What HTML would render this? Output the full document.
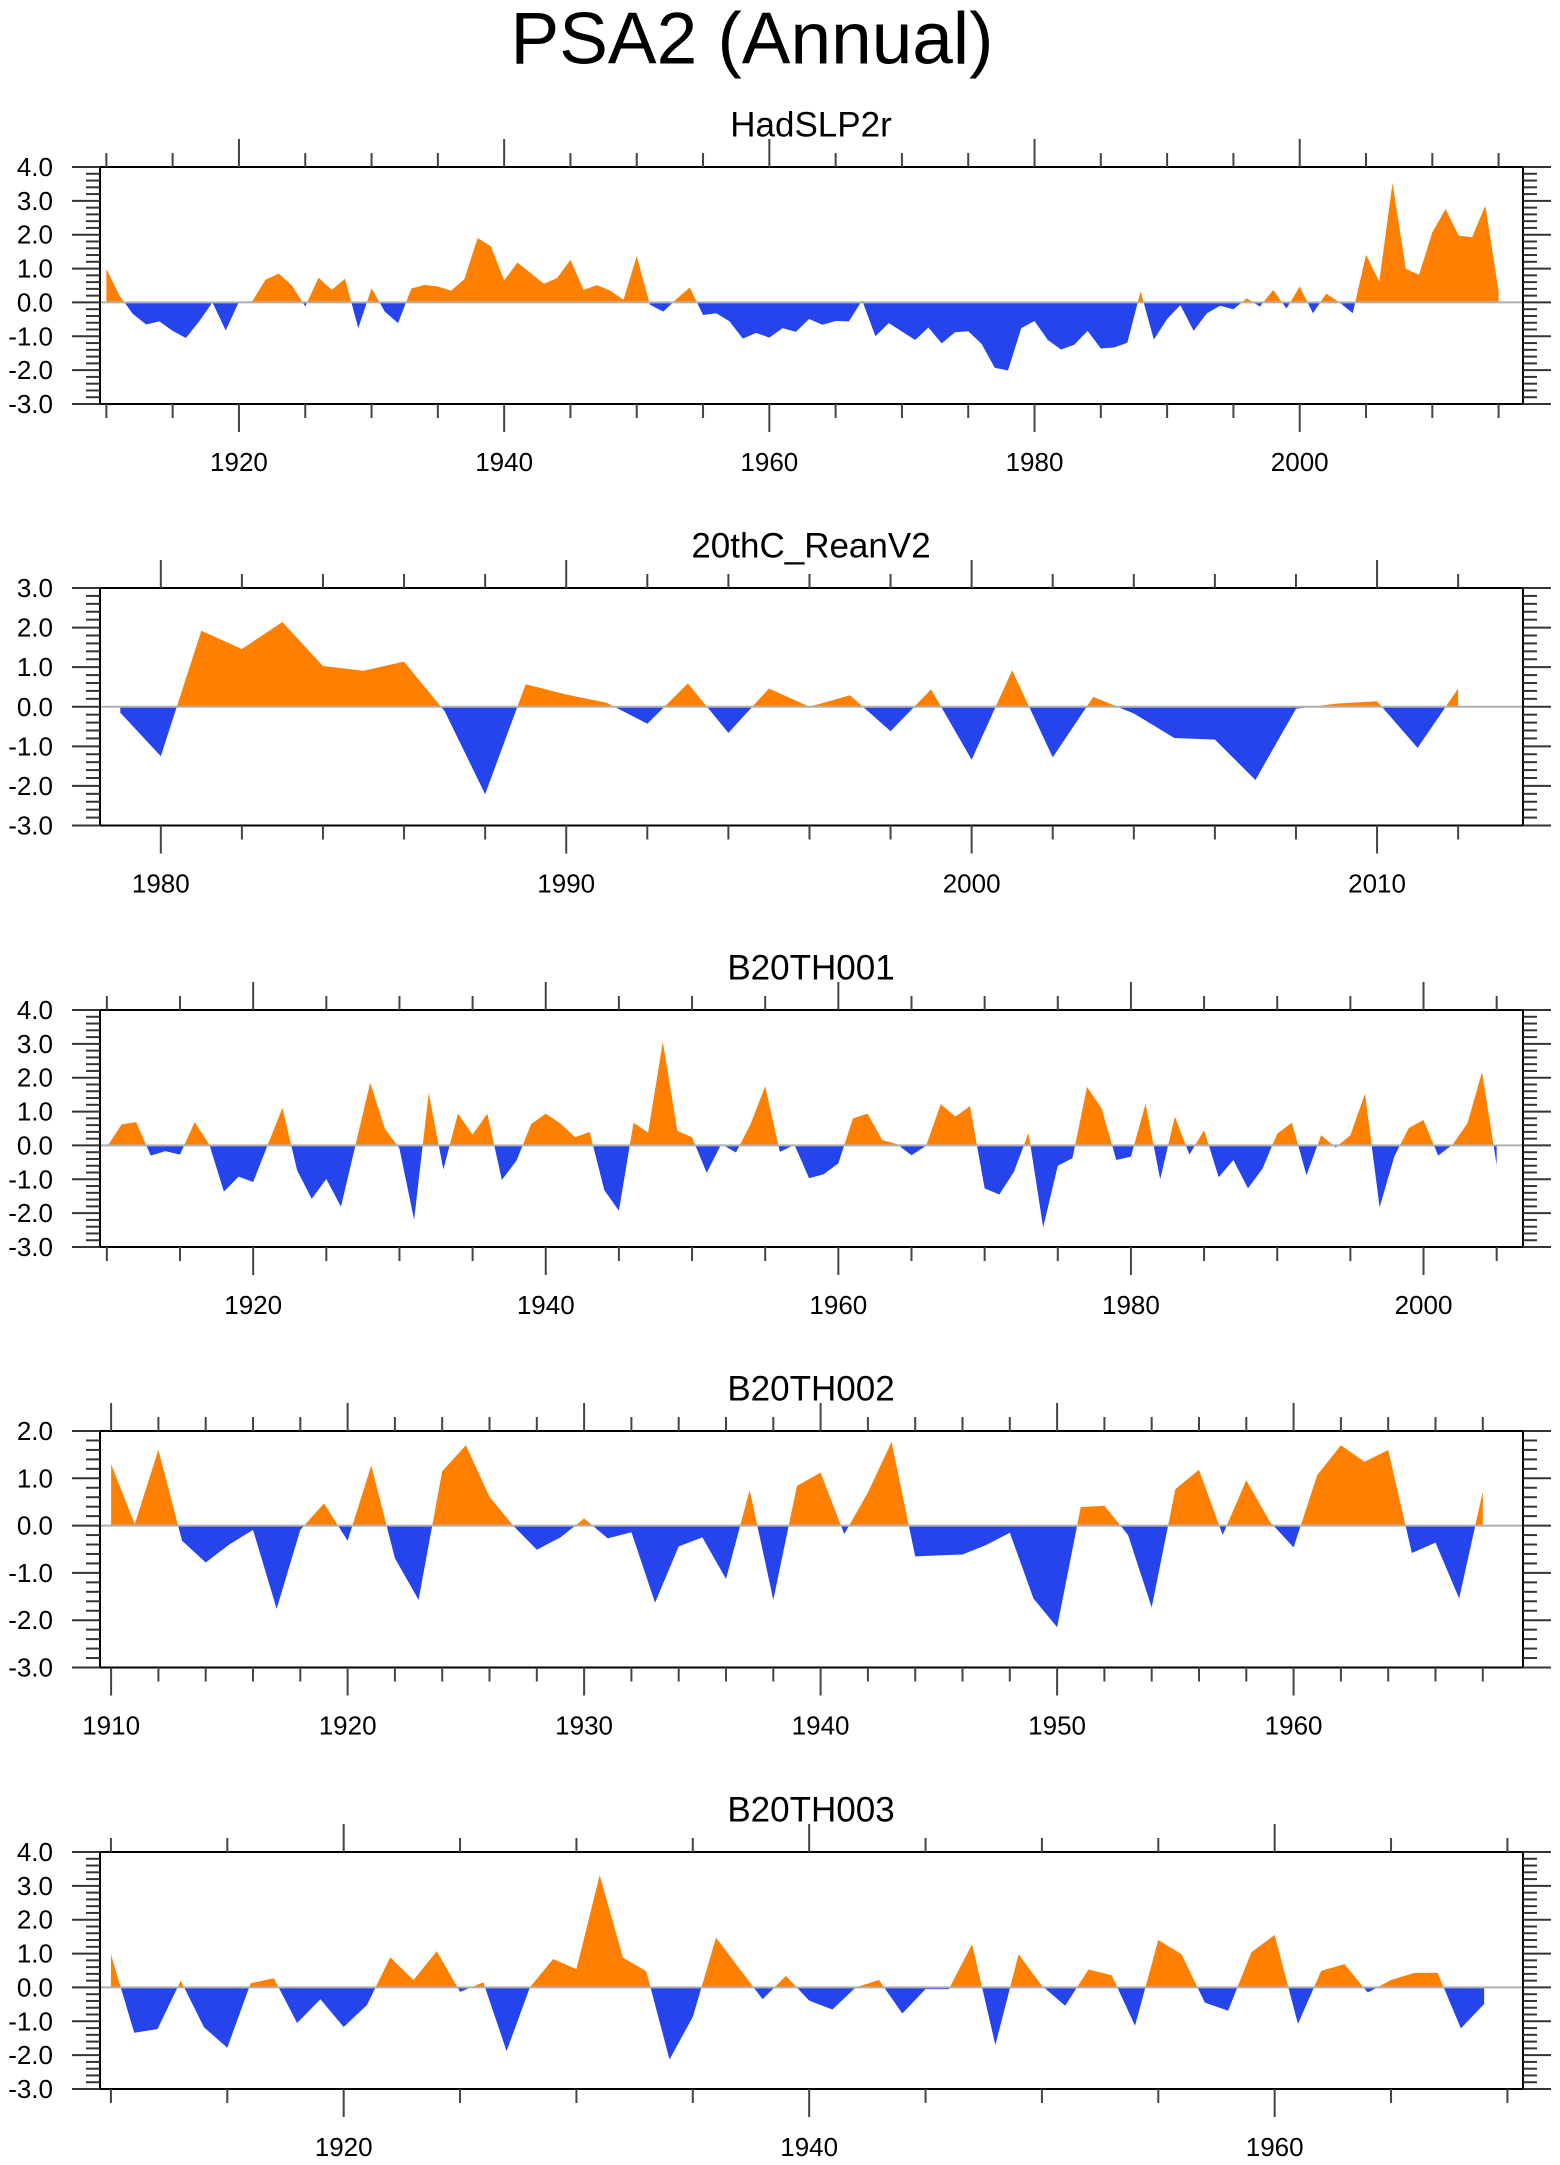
<!DOCTYPE html>
<html><head><meta charset="utf-8"><title>PSA2 (Annual)</title>
<style>
html,body{margin:0;padding:0;background:#fff;}
svg{display:block;font-family:"Liberation Sans",sans-serif;}
</style></head>
<body>
<svg id="chart" width="1560" height="2165" viewBox="0 0 1560 2165" xmlns="http://www.w3.org/2000/svg">
<text x="752" y="39" font-size="73" text-anchor="middle" dominant-baseline="central" fill="#000">PSA2 (Annual)</text>
</svg>
<script>
// ---- data ----
const titles = ["HadSLP2r", "20thC_ReanV2", "B20TH001", "B20TH002", "B20TH003"];
const startYears = [1910, 1979, 1910, 1910, 1910];
const hadslp2r = [0.99,0.2,-0.34,-0.65,-0.56,-0.84,-1.05,-0.56,0.0,-0.83,0.02,0.03,0.67,0.85,0.5,-0.12,0.73,0.37,0.7,-0.76,0.42,-0.27,-0.61,0.41,0.52,0.47,0.35,0.69,1.9,1.66,0.65,1.18,0.87,0.55,0.72,1.26,0.37,0.51,0.35,0.08,1.36,-0.07,-0.27,0.1,0.44,-0.37,-0.32,-0.56,-1.07,-0.9,-1.04,-0.76,-0.87,-0.49,-0.66,-0.55,-0.56,0.06,-1.0,-0.61,-0.86,-1.11,-0.74,-1.21,-0.88,-0.85,-1.22,-1.93,-2.01,-0.76,-0.55,-1.11,-1.39,-1.25,-0.84,-1.36,-1.33,-1.19,0.33,-1.1,-0.49,-0.08,-0.84,-0.32,-0.1,-0.2,0.12,-0.12,0.37,-0.18,0.47,-0.32,0.26,0.0,-0.32,1.41,0.62,3.53,0.99,0.82,2.07,2.76,1.97,1.93,2.86,0.33];
const reanV2 = [-0.15,-1.25,1.92,1.46,2.14,1.03,0.91,1.14,-0.11,-2.21,0.57,0.31,0.1,-0.43,0.59,-0.66,0.46,0.0,0.29,-0.62,0.44,-1.34,0.92,-1.28,0.25,-0.17,-0.79,-0.83,-1.85,-0.05,0.08,0.14,-1.04,0.46];
const b20th001 = [-0.05,0.62,0.69,-0.3,-0.17,-0.27,0.69,0.03,-1.37,-0.92,-1.08,0.02,1.11,-0.73,-1.58,-0.99,-1.81,0.02,1.85,0.5,-0.09,-2.2,1.55,-0.71,0.94,0.32,0.94,-1.02,-0.45,0.63,0.94,0.65,0.24,0.4,-1.32,-1.93,0.67,0.38,3.06,0.43,0.24,-0.81,0.04,-0.21,0.63,1.75,-0.19,0.02,-0.97,-0.85,-0.53,0.8,0.94,0.16,0.04,-0.29,-0.01,1.22,0.85,1.16,-1.27,-1.45,-0.78,0.37,-2.42,-0.6,-0.38,1.73,1.09,-0.43,-0.33,1.23,-1.0,0.85,-0.27,0.45,-0.94,-0.43,-1.27,-0.68,0.35,0.67,-0.88,0.3,-0.06,0.3,1.53,-1.83,-0.33,0.52,0.75,-0.3,0.03,0.65,2.17,-0.58];
const b20th002 = [1.3,0.03,1.6,-0.32,-0.78,-0.4,-0.09,-1.76,-0.09,0.47,-0.32,1.27,-0.69,-1.57,1.15,1.7,0.61,0.0,-0.51,-0.25,0.15,-0.27,-0.14,-1.63,-0.44,-0.25,-1.13,0.75,-1.57,0.84,1.12,-0.18,0.7,1.77,-0.65,-0.63,-0.61,-0.41,-0.15,-1.54,-2.15,0.39,0.42,-0.2,-1.73,0.77,1.18,-0.2,0.96,0.08,-0.46,1.07,1.7,1.35,1.6,-0.58,-0.36,-1.54,0.72];
const b20th003 = [0.98,-1.34,-1.23,0.2,-1.18,-1.78,0.12,0.27,-1.05,-0.35,-1.17,-0.52,0.89,0.22,1.07,-0.13,0.15,-1.88,0.0,0.84,0.54,3.32,0.88,0.48,-2.13,-0.87,1.47,0.56,-0.35,0.34,-0.39,-0.65,0.0,0.22,-0.77,-0.05,-0.05,1.28,-1.7,0.98,0.05,-0.54,0.53,0.36,-1.13,1.4,0.98,-0.45,-0.69,1.04,1.55,-1.08,0.49,0.69,-0.15,0.22,0.43,0.43,-1.21,-0.49];
const seriesList = [hadslp2r, reanV2, b20th001, b20th002, b20th003];
const yMaxes = [4, 3, 4, 2, 4];
const yMins = [-3, -3, -3, -3, -3];
const xMins = [1909.52, 1978.5, 1909.53, 1909.53, 1909.53];
const xMaxes = [2016.84, 2013.6, 2006.8, 1969.7, 1970.67];
const majorSteps = [20, 10, 20, 10, 20];
const minorSteps = [5, 2, 5, 2, 5];

// ---- layout ----
const NS = "http://www.w3.org/2000/svg";
const svg = document.getElementById("chart");
const boxLeft = 100, boxRight = 1523;
const boxTops = [167, 588, 1010, 1431, 1852];
const boxBottoms = [404, 825.5, 1247, 1667.5, 2089];
const ORANGE = "#ff8000", BLUE = "#2644ec";

function mk(tag, attrs, parent) {
  const e = document.createElementNS(NS, tag);
  for (const k in attrs) e.setAttribute(k, attrs[k]);
  (parent || svg).appendChild(e);
  return e;
}

for (let p = 0; p < 5; p++) {
  const top = boxTops[p], bot = boxBottoms[p];
  const xMin = xMins[p], xMax = xMaxes[p], yMin = yMins[p], yMax = yMaxes[p];
  const xs = v => boxLeft + (v - xMin) / (xMax - xMin) * (boxRight - boxLeft);
  const ys = v => bot - (v - yMin) / (yMax - yMin) * (bot - top);
  const g = mk("g", {});
  
  

  // clip paths
  const defs = mk("defs", {}, g);
  const cpU = mk("clipPath", {id: "up" + p}, defs);
  mk("rect", {x: boxLeft, y: top, width: boxRight - boxLeft, height: ys(0) - top}, cpU);
  const cpD = mk("clipPath", {id: "dn" + p}, defs);
  mk("rect", {x: boxLeft, y: ys(0), width: boxRight - boxLeft, height: bot - ys(0)}, cpD);

  const vals = seriesList[p];
  const y0 = ys(0);
  let d = "M" + xs(startYears[p]) + "," + y0;
  for (let i = 0; i < vals.length; i++) d += " L" + xs(startYears[p] + i).toFixed(2) + "," + ys(vals[i]).toFixed(2);
  d += " L" + xs(startYears[p] + vals.length - 1).toFixed(2) + "," + y0 + " Z";
  const pos = mk("path", {d: d, fill: ORANGE, "clip-path": "url(#up" + p + ")"}, g);
  
  
  const neg = mk("path", {d: d, fill: BLUE, "clip-path": "url(#dn" + p + ")"}, g);
  
  

  // zero line
  const zl = mk("line", {x1: boxLeft, x2: boxRight, y1: y0, y2: y0, stroke: "#b0b0b0", "stroke-width": 2}, g);
  
  

  // box
  const box = mk("rect", {x: boxLeft, y: top, width: boxRight - boxLeft, height: bot - top, fill: "none", stroke: "#000", "stroke-width": 2}, g);
  
  

  // y ticks
  for (let k = 0; k <= Math.round((yMax - yMin) * 5); k++) {
    const v = yMin + k * 0.2;
    const y = ys(v);
    const major = k % 5 === 0;
    const L = major ? 28 : 14;
    mk("line", {x1: boxLeft - L, x2: boxLeft, y1: y, y2: y, stroke: "#333", "stroke-width": 2}, g);
    mk("line", {x1: boxRight, x2: boxRight + L, y1: y, y2: y, stroke: "#333", "stroke-width": 2}, g);
    if (major) {
      const t = mk("text", {x: 53, y: y, "font-size": 26, "text-anchor": "end", "dominant-baseline": "central", fill: "#000"}, g);
      
      
      t.textContent = (Math.round(v * 10) / 10).toFixed(1);
    }
  }
  // x ticks
  const ms = minorSteps[p], Ms = majorSteps[p];
  for (let yr = Math.ceil(xMin / ms) * ms; yr <= xMax; yr += ms) {
    const x = xs(yr);
    const major = yr % Ms === 0;
    const L = major ? 28 : 14;
    mk("line", {x1: x, x2: x, y1: top - L, y2: top, stroke: "#444", "stroke-width": 2}, g);
    mk("line", {x1: x, x2: x, y1: bot, y2: bot + L, stroke: "#444", "stroke-width": 2}, g);
    if (major) {
      const t = mk("text", {x: x, y: bot + 58, "font-size": 26, "text-anchor": "middle", "dominant-baseline": "central", fill: "#000"}, g);
      
      
      t.textContent = yr;
    }
  }
  // title
  const tt = mk("text", {x: 811, y: top - 42, "font-size": 35, "text-anchor": "middle", "dominant-baseline": "central", fill: "#000"}, g);
  
  
  tt.textContent = titles[p];
}
</script>
</body></html>
